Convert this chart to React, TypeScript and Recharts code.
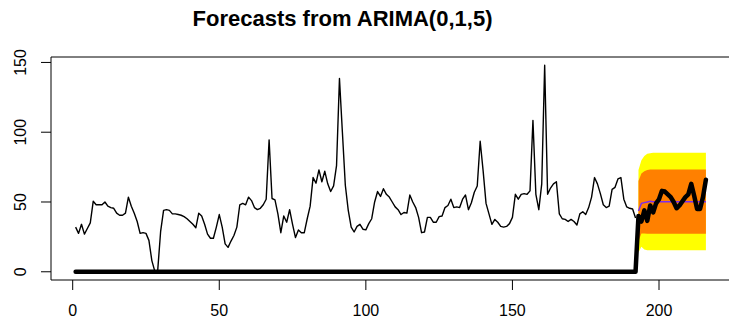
import React from 'react';
import { ComposedChart, Line, Area, XAxis, YAxis, ReferenceLine } from 'recharts';

// training series, t = 1..192
const observed = [
  32, 27.5, 34, 27, 31, 35, 50.5, 48, 48, 48,
  50, 47, 46, 45.5, 42, 40.5, 40.5, 42, 53.5, 47,
  42, 36, 27.5, 28, 27.5, 22.5, 8, 0.5, 1, 29,
  44, 44.5, 44, 41.5, 41.5, 41, 40.5, 39.5, 38, 36,
  34, 31.5, 42, 40, 34, 27, 24, 24, 32, 41,
  32, 20, 17.5, 22, 26, 32, 48, 49, 48, 53.5,
  51, 46, 44.5, 45.5, 48, 52, 94.5, 52.5, 51.5, 41.5,
  28, 40, 35.5, 44.5, 34, 24.5, 30, 28, 28, 38,
  47, 67.5, 63.5, 73, 64.5, 72, 63, 57.5, 61.5, 76,
  138.5, 100, 62, 44, 32, 28.5, 32.5, 34, 30.5, 30,
  34.5, 38, 50, 57.5, 54, 59.5, 55.5, 53.5, 50, 46.5,
  44.5, 41, 42.5, 42, 55, 50, 46, 39, 28, 28.5,
  39, 39, 35.5, 35.5, 39.5, 40, 46, 47.5, 52, 46,
  46.5, 46, 52, 55, 44.5, 49.5, 57, 61.5, 93.5, 72.5,
  49, 41.5, 34, 37.5, 35.5, 32.5, 32, 32.5, 34.5, 39,
  55.5, 52, 55.5, 56, 55.5, 58, 108.5, 55.5, 44.5, 63,
  148, 55.5, 60, 63, 64.5, 41.5, 38, 37.5, 36, 37.5,
  36, 33.5, 41.5, 43, 41, 46, 53.5, 67.5, 63, 56,
  48, 46, 47, 59, 60.5, 66.5, 67.5, 52, 46.5, 45.5,
  45, 38.5,
];

// thick line: flat at zero over the training span, then the held-out values
const zeroSpan = [1, 192];
const actual = [40, 36, 44, 36.5, 47.5, 42.5, 49, 52, 58, 57.5, 55.5, 53.5, 50, 45.5, 47.5, 50.5, 53.5, 55.5, 63, 54.5, 45, 45, 53.5, 66];

// forecast, t = 193..216
const fcMean = [43.5, 49, 49.5, 50, 50.5, 50.2, 50.2, 50.2, 50.2, 50.2, 50.2, 50.2, 50.2, 50.2, 50.2, 50.2, 50.2, 50.2, 50.2, 50.2, 50.2, 50.2, 50.2, 50.2];
const hi95 = [73, 80, 83, 84.5, 85, 85.2, 85.2, 85.2, 85.2, 85.2, 85.2, 85.2, 85.2, 85.2, 85.2, 85.2, 85.2, 85.2, 85.2, 85.2, 85.2, 85.2, 85.2, 85.2];
const hi80 = [65, 70.5, 72, 73, 73.2, 73.2, 73.2, 73.2, 73.2, 73.2, 73.2, 73.2, 73.2, 73.2, 73.2, 73.2, 73.2, 73.2, 73.2, 73.2, 73.2, 73.2, 73.2, 73.2];
const lo80 = [22, 27.5, 27.5, 27.3, 27.3, 27.3, 27.3, 27.3, 27.3, 27.3, 27.3, 27.3, 27.3, 27.3, 27.3, 27.3, 27.3, 27.3, 27.3, 27.3, 27.3, 27.3, 27.3, 27.3];
const lo95 = [14, 18, 16, 15.5, 15.5, 15.5, 15.5, 15.5, 15.5, 15.5, 15.5, 15.5, 15.5, 15.5, 15.5, 15.5, 15.5, 15.5, 15.5, 15.5, 15.5, 15.5, 15.5, 15.5];

const xTicks = [0, 50, 100, 150, 200];
const yTicks = [0, 50, 100, 150];
const title = 'Forecasts from ARIMA(0,1,5)';

const FONT = '"Liberation Sans", Arial, Helvetica, sans-serif';
const X_DOMAIN: [number, number] = [-7.4, 224.56];
const Y_DOMAIN: [number, number] = [-5.9, 153.9];

const rows: any[] = observed.map((v, i) => ({ t: i + 1, obs: v }));
zeroSpan.forEach((t) => { rows[t - 1].act = 0; });
actual.forEach((v, i) => {
  rows.push({
    t: observed.length + 1 + i,
    act: v,
    mean: fcMean[i],
    b95: [lo95[i], hi95[i]],
    b80: [lo80[i], hi80[i]],
  });
});

const YTick = ({ x, y, payload }: any) => (
  <text
    x={x}
    y={y}
    transform={`rotate(-90, ${x}, ${y})`}
    textAnchor="middle"
    fontSize={16}
    fill="#000"
    fontFamily={FONT}
  >
    {payload.value}
  </text>
);

export default function App() {
  return (
    <div style={{ position: 'fixed', left: 0, top: 0, width: 729, height: 323, overflow: 'hidden', background: '#fff' }}>
      <ComposedChart width={735} height={323} data={rows} margin={{ top: 57, right: 4, bottom: 0, left: 0 }}>
        <XAxis
          dataKey="t"
          type="number"
          domain={X_DOMAIN}
          allowDataOverflow
          ticks={xTicks}
          interval={0}
          height={43}
          tickSize={10}
          tickMargin={15}
          stroke="#000"
          tick={{ fontSize: 16, fill: '#000', fontFamily: FONT }}
        />
        <YAxis
          type="number"
          domain={Y_DOMAIN}
          allowDataOverflow
          ticks={yTicks}
          interval={0}
          width={51}
          tickSize={10}
          tickMargin={15}
          stroke="#000"
          tick={<YTick />}
        />
        <ReferenceLine y={Y_DOMAIN[1]} stroke="#000" />
        <Line dataKey="obs" stroke="#000" strokeWidth={1.4} dot={false} strokeLinejoin="round" isAnimationActive={false} />
        <Area dataKey="b95" type="linear" fill="#FFFF00" fillOpacity={1} stroke="none" isAnimationActive={false} />
        <Area dataKey="b80" type="linear" fill="#FF8000" fillOpacity={1} stroke="none" isAnimationActive={false} />
        <Line dataKey="mean" stroke="#7a2cf0" strokeWidth={1.4} dot={false} isAnimationActive={false} />
        <Line
          dataKey="act"
          stroke="#000"
          strokeWidth={4.5}
          dot={false}
          connectNulls
          strokeLinejoin="round"
          strokeLinecap="round"
          isAnimationActive={false}
        />
      </ComposedChart>
      <svg width={729} height={40} style={{ position: 'absolute', left: 0, top: 0 }}>
        <text x={342.5} y={26} textAnchor="middle" fontSize={22} fontWeight="bold" fill="#000" fontFamily={FONT}>
          {title}
        </text>
      </svg>
    </div>
  );
}
